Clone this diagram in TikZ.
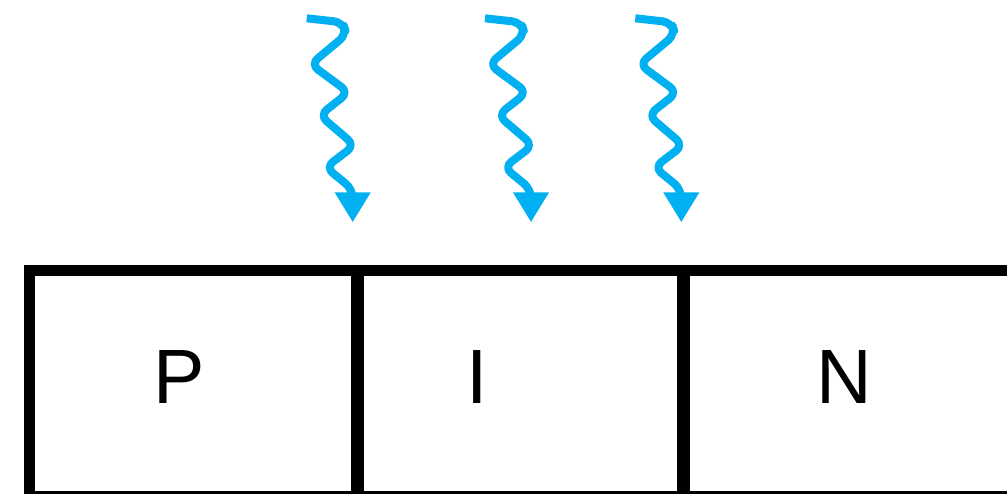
\documentclass[tikz,border=0pt]{standalone}
\usepackage{fontspec}
\setmainfont{Liberation Sans}
\usetikzlibrary{arrows.meta}
\definecolor{raycyan}{RGB}{0,176,240}
\begin{document}
\begin{tikzpicture}[x=1pt,y=1pt,
  boxline/.style={line width=11pt,draw=black},
  divline/.style={line width=13pt,draw=black},
  lbl/.style={inner sep=0pt,anchor=base,font=\fontsize{77}{80}\selectfont},
  ray/.style={draw=raycyan,line width=8pt,line join=round,line cap=butt,rounded corners=9pt,
    -{Triangle[length=30pt,width=34pt]}}]
\useasboundingbox (0,0) rectangle (1007,494);
% frame
\coordinate (bl) at (29.5,-3);
\coordinate (tr) at (1014,223.5);
\draw[boxline] (bl) rectangle (tr);
\coordinate (d1t) at (357.5,223.5);
\coordinate (d1b) at (357.5,-10);
\coordinate (d2t) at (683.5,223.5);
\coordinate (d2b) at (683.5,-10);
\draw[divline] (d1t) -- (d1b);
\draw[divline] (d2t) -- (d2b);
% labels
\node[lbl] (P) at (179,90) {P};
\node[lbl] (I) at (477,90) {I};
\node[lbl] (N) at (844,90) {N};
% wavy rays
\foreach \sx [count=\k] in {306.7,485,635.3}{
  \coordinate (r\k) at (\sx,475.7);
  \draw[ray] (r\k) -- +(36,-4) -- +(40,-16) -- +(4,-46) -- +(42,-74)
    -- +(13,-97) -- +(48,-127) -- +(19,-149) -- +(46,-171) -- +(46,-204);
}
\end{tikzpicture}
\end{document}
